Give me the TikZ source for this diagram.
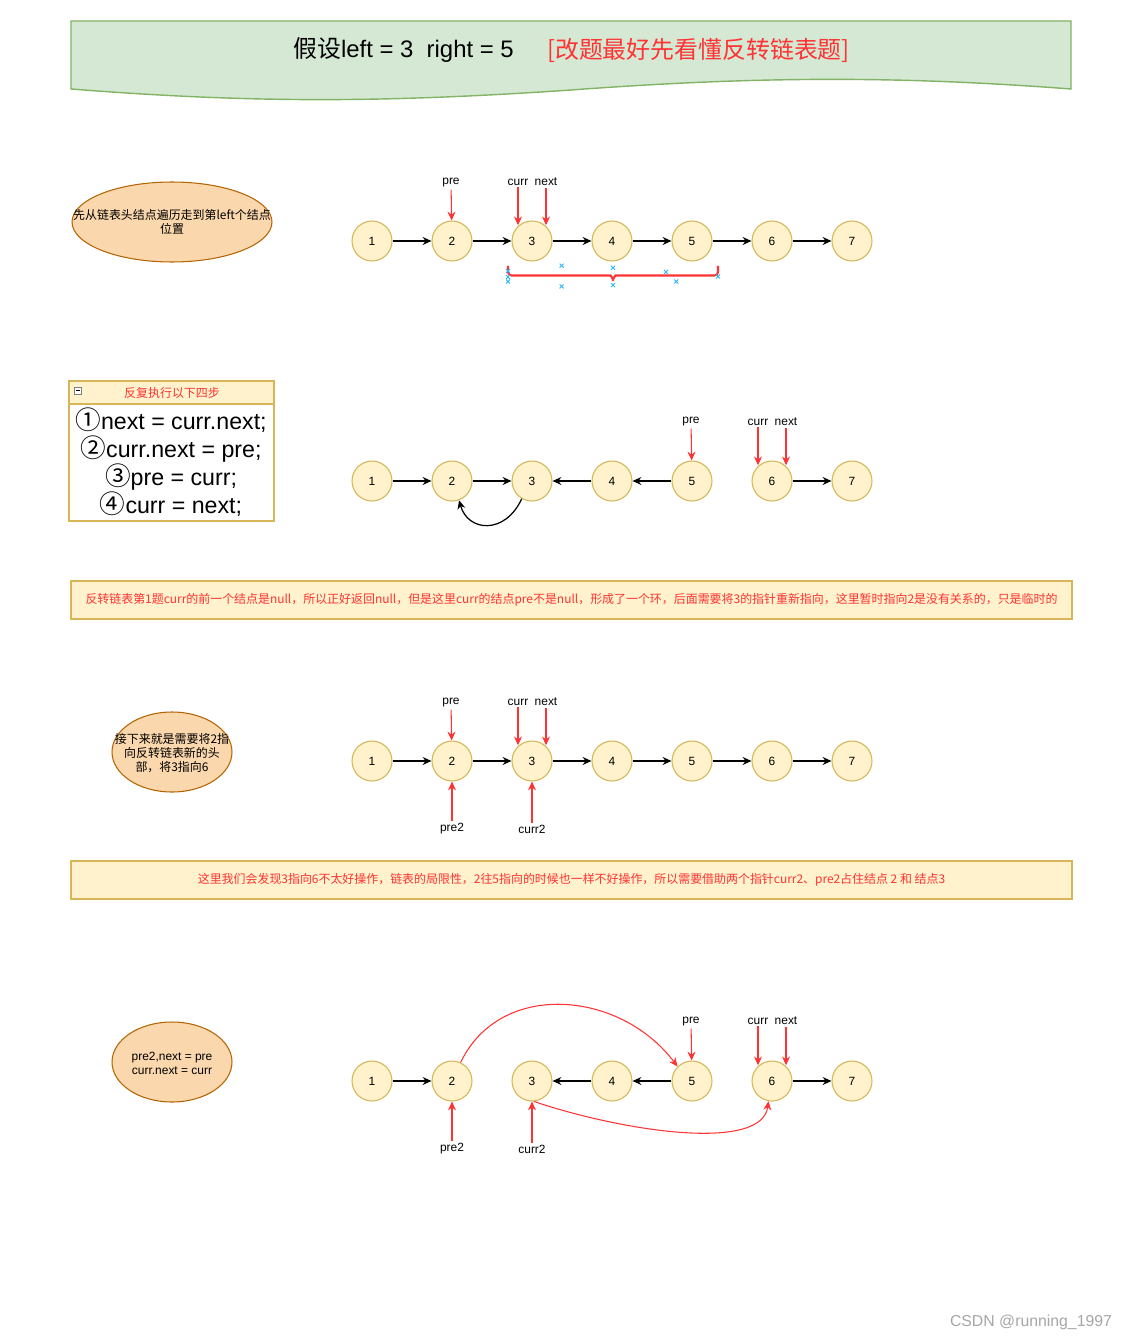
\documentclass[tikz,border=0pt]{standalone}
\usepackage{fontspec}
\setmainfont{Liberation Sans}
\newfontfamily\cjk{Noto Sans CJK SC}
\usetikzlibrary{shapes.geometric,arrows.meta}
\definecolor{nodefill}{HTML}{FFF2CC}
\definecolor{nodeline}{HTML}{D6B656}
\definecolor{ellfill}{HTML}{FAD7AC}
\definecolor{ellline}{HTML}{B46504}
\definecolor{titlefill}{HTML}{D5E8D4}
\definecolor{titleline}{HTML}{82B366}
\definecolor{ptrred}{HTML}{FF3333}
\definecolor{handleblue}{HTML}{29B6F2}

\begin{document}
\begin{tikzpicture}[x=0.02cm,y=-0.02cm,every node/.style={font=\fontsize{6.8}{8}\selectfont},
  lnode/.style={circle,draw=nodeline,fill=nodefill,line width=0.6pt,minimum size=0.8cm,inner sep=0pt},
  note/.style={ellipse,draw=ellline,fill=ellfill,line width=0.6pt,inner sep=0pt,minimum height=1.6cm},
  notetext/.style={align=center,font=\cjk\fontsize{6.8}{8}\selectfont},
  banner/.style={draw=nodeline,fill=nodefill,line width=1.1pt,minimum width=20.02cm,minimum height=0.76cm,inner sep=0pt,text=ptrred,font=\cjk\fontsize{6.8}{8}\selectfont},
  lbl/.style={inner sep=1pt},
  link/.style={-{Stealth[length=5pt,width=4.5pt]},line width=0.7pt},
  ptr/.style={-{Stealth[length=5pt,width=4.5pt]},draw=ptrred,line width=0.6pt}]
\path[use as bounding box,fill=white] (0,0) rectangle (1137,1341);
% title
\draw[fill=titlefill,draw=titleline,line width=0.8pt] (71,21) -- (1071,21) -- (1071,89) .. controls (900,76) and (760,76) .. (571,90) .. controls (380,103) and (250,103) .. (71,89) -- cycle;
\node[font=\fontsize{13.6}{16}\selectfont] (ttl) at (403.5,50) {{\cjk 假设}left = 3~~right = 5};
\node[font=\cjk\fontsize{13.6}{16}\selectfont,text=ptrred] (ttlred) at (698.5,50) {[改题最好先看懂反转链表题]};
% step 1
\node[note,minimum width=4cm] (e1) at (172,222) {}; \node[notetext] (e1t) at (172,222) {先从链表头结点遍历走到第left个结点\\位置};
\node[lnode] (a1) at (372,241) {1}; \node[lnode] (a2) at (452,241) {2}; \node[lnode] (a3) at (532,241) {3}; \node[lnode] (a4) at (612,241) {4}; \node[lnode] (a5) at (692,241) {5}; \node[lnode] (a6) at (772,241) {6}; \node[lnode] (a7) at (852,241) {7};
\draw[link] (a1)--(a2); \draw[link] (a2)--(a3); \draw[link] (a3)--(a4); \draw[link] (a4)--(a5); \draw[link] (a5)--(a6); \draw[link] (a6)--(a7);
\node[lbl] (apre) at (451,183) {pre}; \node[lbl] (acurr) at (518,182) {curr}; \node[lbl] (anext) at (546,182) {next};
\draw[ptr] (apre) -- (a2); \draw[ptr] (acurr) -- (acurr |- a3.130); \draw[ptr] (anext) -- (anext |- a3.50);
\draw[ptrred,line width=1.2pt,rounded corners=2pt] (508,266) -- (508,275.5) -- (607,275.5) to[out=0,in=90] (613,283) to[out=90,in=180] (619,275.5) -- (718,275.5) -- (718,266);
\draw[handleblue,line width=0.5pt] (508,271) +(-2,-2) -- +(2,2) +(-2,2) -- +(2,-2) (508,277) +(-2,-2) -- +(2,2) +(-2,2) -- +(2,-2) (508,281.5) +(-2,-2) -- +(2,2) +(-2,2) -- +(2,-2)
  (561.6,265.7) +(-2,-2) -- +(2,2) +(-2,2) -- +(2,-2) (561.6,286.4) +(-2,-2) -- +(2,2) +(-2,2) -- +(2,-2) (613,267.8) +(-2,-2) -- +(2,2) +(-2,2) -- +(2,-2) (613,285) +(-2,-2) -- +(2,2) +(-2,2) -- +(2,-2)
  (666,272) +(-2,-2) -- +(2,2) +(-2,2) -- +(2,-2) (676.3,281.5) +(-2,-2) -- +(2,2) +(-2,2) -- +(2,-2) (718,276.4) +(-2,-2) -- +(2,2) +(-2,2) -- +(2,-2);
% step 2
\draw[draw=nodeline,line width=1.1pt,fill=white] (69,404) rectangle (274,521); \draw[draw=nodeline,line width=1.1pt,fill=nodefill] (69,381) rectangle (274,404);
\draw[gray,fill=white,line width=0.4pt] (74.5,387.5) rectangle (81.5,394); \draw[black,line width=0.5pt] (76,390.75) -- (80,390.75);
\node[notetext,text=ptrred] (steph) at (172,393) {反复执行以下四步};
\node[align=center,font=\fontsize{13.2}{15.9}\selectfont] (steps) at (171,462) {{\cjk\fontsize{14.6}{15.9}\selectfont ①}next = curr.next;\\{\cjk\fontsize{14.6}{15.9}\selectfont ②}curr.next = pre;\\{\cjk\fontsize{14.6}{15.9}\selectfont ③}pre = curr;\\{\cjk\fontsize{14.6}{15.9}\selectfont ④}curr = next;};
\node[lnode] (b1) at (372,481) {1}; \node[lnode] (b2) at (452,481) {2}; \node[lnode] (b3) at (532,481) {3}; \node[lnode] (b4) at (612,481) {4}; \node[lnode] (b5) at (692,481) {5}; \node[lnode] (b6) at (772,481) {6}; \node[lnode] (b7) at (852,481) {7};
\draw[link] (b1)--(b2); \draw[link] (b2)--(b3); \draw[link] (b4)--(b3); \draw[link] (b5)--(b4); \draw[link] (b6)--(b7);
\draw[link] (b3.-120) .. controls (505,535) and (468,532) .. (b2.-70);
\node[lbl] (bpre) at (691,422) {pre}; \node[lbl] (bcurr) at (758,422) {curr}; \node[lbl] (bnext) at (786,422) {next};
\draw[ptr] (bpre) -- (b5); \draw[ptr] (bcurr) -- (bcurr |- b6.130); \draw[ptr] (bnext) -- (bnext |- b6.50);
\node[banner] (warn1) at (571.5,600) {反转链表第1题curr的前一个结点是null，所以正好返回null，但是这里curr的结点pre不是null，形成了一个环，后面需要将3的指针重新指向，这里暂时指向2是没有关系的，只是临时的};
% step 3
\node[note,minimum width=2.4cm] (e3) at (172,752) {}; \node[notetext] (e3t) at (172,753) {接下来就是需要将2指\\向反转链表新的头\\部，将3指向6};
\node[lnode] (c1) at (372,761) {1}; \node[lnode] (c2) at (452,761) {2}; \node[lnode] (c3) at (532,761) {3}; \node[lnode] (c4) at (612,761) {4}; \node[lnode] (c5) at (692,761) {5}; \node[lnode] (c6) at (772,761) {6}; \node[lnode] (c7) at (852,761) {7};
\draw[link] (c1)--(c2); \draw[link] (c2)--(c3); \draw[link] (c3)--(c4); \draw[link] (c4)--(c5); \draw[link] (c5)--(c6); \draw[link] (c6)--(c7);
\node[lbl] (cpre) at (451,703) {pre}; \node[lbl] (ccurr) at (518,702) {curr}; \node[lbl] (cnext) at (546,702) {next};
\draw[ptr] (cpre) -- (c2); \draw[ptr] (ccurr) -- (ccurr |- c3.130); \draw[ptr] (cnext) -- (cnext |- c3.50);
\node[lbl] (cpre2) at (452,829) {pre2}; \node[lbl] (ccurr2) at (532,829) {curr2};
\draw[ptr] (cpre2) -- (c2); \draw[ptr] (ccurr2) -- (c3);
\node[banner] (warn2) at (571.5,880) {这里我们会发现3指向6不太好操作，链表的局限性，2往5指向的时候也一样不好操作，所以需要借助两个指针curr2、pre2占住结点 2 和 结点3};
% step 4
\node[note,minimum width=2.4cm] (e4) at (172,1062) {}; \node[align=center] (e4t) at (172,1063) {pre2,next = pre\\curr.next = curr};
\node[lnode] (d1) at (372,1081) {1}; \node[lnode] (d2) at (452,1081) {2}; \node[lnode] (d3) at (532,1081) {3}; \node[lnode] (d4) at (612,1081) {4}; \node[lnode] (d5) at (692,1081) {5}; \node[lnode] (d6) at (772,1081) {6}; \node[lnode] (d7) at (852,1081) {7};
\draw[link] (d1)--(d2); \draw[link] (d4)--(d3); \draw[link] (d5)--(d4); \draw[link] (d6)--(d7);
\node[lbl] (dpre) at (691,1022) {pre}; \node[lbl] (dcurr) at (758,1021) {curr}; \node[lbl] (dnext) at (786,1021) {next};
\draw[ptr] (dpre) -- (d5); \draw[ptr] (dcurr) -- (dcurr |- d6.130); \draw[ptr] (dnext) -- (dnext |- d6.50);
\node[lbl] (dpre2) at (452,1149) {pre2}; \node[lbl] (dcurr2) at (532,1149) {curr2};
\draw[ptr] (dpre2) -- (d2); \draw[ptr] (dcurr2) -- (d3);
\draw[ptr] (d2.65) .. controls (500,980) and (620,990) .. (d5.135);
\draw[ptr] (d3.-85) .. controls (625,1132) and (762,1152) .. (d6.-100);
\node[text=gray!70,font=\fontsize{9}{10}\selectfont] (mark) at (1031,1322) {CSDN @running\_1997};
\end{tikzpicture}
\end{document}
